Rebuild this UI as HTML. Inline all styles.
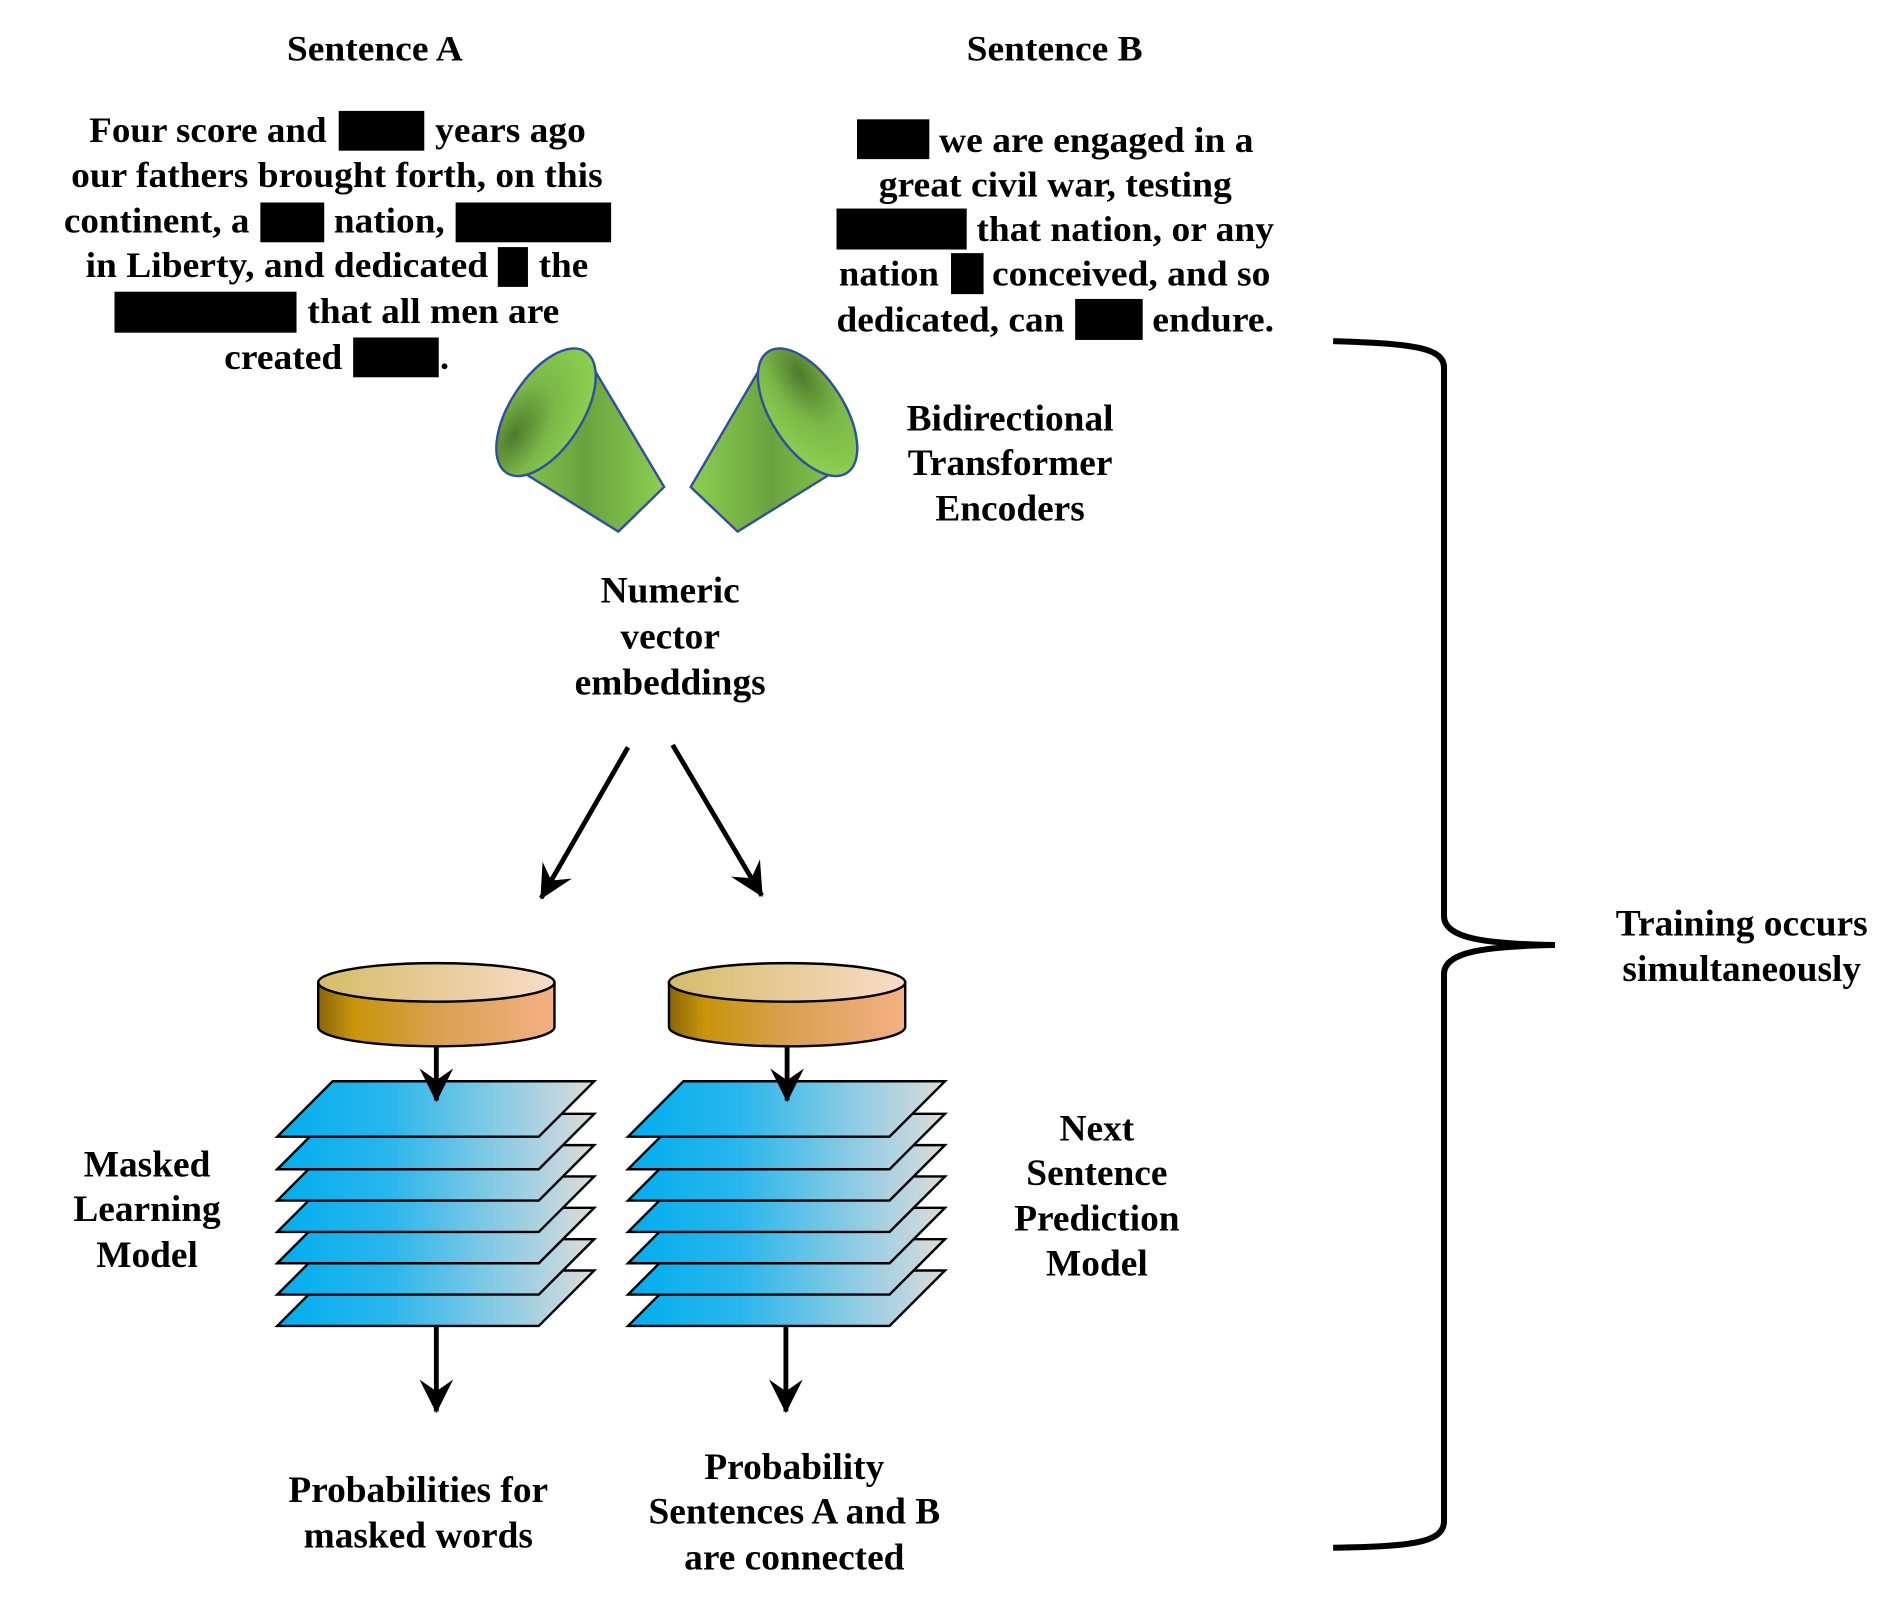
<!DOCTYPE html>
<html><head><meta charset="utf-8"><style>html,body{margin:0;padding:0;background:#fff}svg{display:block}</style></head>
<body>
<svg width="1890" height="1608" viewBox="0 0 1568 1334" preserveAspectRatio="none" xmlns="http://www.w3.org/2000/svg" font-family="'Liberation Serif', serif" font-weight="bold" font-size="30">
<defs>
<radialGradient id="cg" cx="0.3" cy="0.75" r="0.8"><stop offset="0" stop-color="#4f7a2c"/><stop offset="0.5" stop-color="#7bb848"/><stop offset="1" stop-color="#8ccf50"/></radialGradient>
<radialGradient id="cg2" cx="0.7" cy="0.25" r="0.8"><stop offset="0" stop-color="#4f7a2c"/><stop offset="0.5" stop-color="#7bb848"/><stop offset="1" stop-color="#8ccf50"/></radialGradient>
<linearGradient id="cb" x1="0" x2="1"><stop offset="0" stop-color="#8ccf50"/><stop offset="0.5" stop-color="#6aa23e"/><stop offset="1" stop-color="#8ccf50"/></linearGradient>
<linearGradient id="cyb" x1="0" x2="1"><stop offset="0" stop-color="#8a6408"/><stop offset="0.15" stop-color="#c8950a"/><stop offset="0.5" stop-color="#d9a050"/><stop offset="1" stop-color="#f4b084"/></linearGradient>
<linearGradient id="cyt" x1="0" x2="1"><stop offset="0" stop-color="#d6bc68"/><stop offset="1" stop-color="#f8dcc8"/></linearGradient>
<linearGradient id="pl" x1="0" x2="1"><stop offset="0" stop-color="#00aeef"/><stop offset="0.35" stop-color="#29b6ec"/><stop offset="1" stop-color="#dcdcdc"/></linearGradient>
<marker id="ah" viewBox="0 0 20 20" refX="19" refY="10" markerWidth="32" markerHeight="28" markerUnits="userSpaceOnUse" orient="auto"><path d="M0,0 L20,10 L0,20 L7,10 Z" fill="#000"/></marker>
<g id="plate"><polygon points="230,943 276,897 493,897 447,943" fill="url(#pl)" stroke="#000" stroke-width="2"/></g>
</defs>

<g text-anchor="middle">
<text x="311" y="50" textLength="146" lengthAdjust="spacingAndGlyphs">Sentence A</text>
<text x="875" y="50" textLength="146" lengthAdjust="spacingAndGlyphs">Sentence B</text>
</g>

<!-- Sentence A -->
<text x="74" y="118" textLength="197" lengthAdjust="spacingAndGlyphs">Four score and</text>
<rect x="281" y="92" width="71" height="33"/>
<text x="361" y="118" textLength="125" lengthAdjust="spacingAndGlyphs">years ago</text>
<text x="59" y="155" textLength="441" lengthAdjust="spacingAndGlyphs">our fathers brought forth, on this</text>
<text x="53" y="193" textLength="154" lengthAdjust="spacingAndGlyphs">continent, a</text>
<rect x="216" y="168" width="53" height="33"/>
<text x="277" y="193" textLength="92" lengthAdjust="spacingAndGlyphs">nation,</text>
<rect x="378" y="168" width="129" height="33"/>
<text x="71" y="230" textLength="334" lengthAdjust="spacingAndGlyphs">in Liberty, and dedicated</text>
<rect x="413" y="205" width="25" height="33"/>
<text x="447" y="230" textLength="41" lengthAdjust="spacingAndGlyphs">the</text>
<rect x="95" y="242" width="151" height="34"/>
<text x="255" y="268" textLength="209" lengthAdjust="spacingAndGlyphs">that all men are</text>
<text x="186" y="306" textLength="98" lengthAdjust="spacingAndGlyphs">created</text>
<rect x="293" y="280" width="71" height="33"/>
<text x="365" y="306">.</text>

<!-- Sentence B -->
<rect x="711" y="99" width="60" height="33"/>
<text x="779" y="126" textLength="261" lengthAdjust="spacingAndGlyphs">we are engaged in a</text>
<text x="729" y="163" textLength="293" lengthAdjust="spacingAndGlyphs">great civil war, testing</text>
<rect x="694" y="173" width="108" height="34"/>
<text x="810" y="200" textLength="247" lengthAdjust="spacingAndGlyphs">that nation, or any</text>
<text x="696" y="237" textLength="83" lengthAdjust="spacingAndGlyphs">nation</text>
<rect x="789" y="210" width="27" height="34"/>
<text x="823" y="237" textLength="231" lengthAdjust="spacingAndGlyphs">conceived, and so</text>
<text x="694" y="275" textLength="189" lengthAdjust="spacingAndGlyphs">dedicated, can</text>
<rect x="892" y="248" width="56" height="34"/>
<text x="956" y="275" textLength="101" lengthAdjust="spacingAndGlyphs">endure.</text>

<!-- Cones -->
<g stroke="#2f4f9f" stroke-width="2">
<polygon points="495,310 551,404 513,441 418,382" fill="url(#cb)"/>
<ellipse cx="453" cy="342" rx="30" ry="60" transform="rotate(33 453 342)" fill="url(#cg)"/>
<polygon points="628,310 573,404 612,441 707,382" fill="url(#cb)"/>
<ellipse cx="670" cy="342" rx="30" ry="60" transform="rotate(-33 670 342)" fill="url(#cg2)"/>
</g>

<g text-anchor="middle" font-size="31">
<text x="838" y="357">Bidirectional</text>
<text x="838" y="394">Transformer</text>
<text x="838" y="432">Encoders</text>
<text x="556" y="500">Numeric</text>
<text x="556" y="538">vector</text>
<text x="556" y="576">embeddings</text>
<text x="122" y="976">Masked</text>
<text x="122" y="1013">Learning</text>
<text x="122" y="1051">Model</text>
<text x="910" y="946">Next</text>
<text x="910" y="983">Sentence</text>
<text x="910" y="1021">Prediction</text>
<text x="910" y="1058">Model</text>
<text x="347" y="1246">Probabilities for</text>
<text x="347" y="1284">masked words</text>
<text x="659" y="1227">Probability</text>
<text x="659" y="1264">Sentences A and B</text>
<text x="659" y="1302">are connected</text>
<text x="1445" y="776" textLength="209" lengthAdjust="spacingAndGlyphs">Training occurs</text>
<text x="1445" y="814" textLength="198" lengthAdjust="spacingAndGlyphs">simultaneously</text>
</g>

<!-- Arrows -->
<g stroke="#000" stroke-width="4" fill="none" marker-end="url(#ah)">
<line x1="521" y1="620" x2="449" y2="745"/>
<line x1="558" y1="618" x2="632" y2="743"/>
<line x1="362" y1="1100" x2="362" y2="1171"/>
<line x1="652" y1="1100" x2="652" y2="1171"/>
</g>

<!-- Stacks -->
<g>
<use href="#plate" y="157"/><use href="#plate" y="131"/><use href="#plate" y="105"/><use href="#plate" y="79"/><use href="#plate" y="53"/><use href="#plate" y="27"/><use href="#plate" y="0"/>
</g>
<g transform="translate(291,0)">
<use href="#plate" y="157"/><use href="#plate" y="131"/><use href="#plate" y="105"/><use href="#plate" y="79"/><use href="#plate" y="53"/><use href="#plate" y="27"/><use href="#plate" y="0"/>
</g>

<!-- Cylinders -->
<g stroke="#000" stroke-width="2">
<path d="M264,815 L264,852 A98,16 0 0 0 460,852 L460,815 Z" fill="url(#cyb)"/>
<ellipse cx="362" cy="815" rx="98" ry="16" fill="url(#cyt)"/>
<path d="M555,815 L555,852 A98,16 0 0 0 751,852 L751,815 Z" fill="url(#cyb)"/>
<ellipse cx="653" cy="815" rx="98" ry="16" fill="url(#cyt)"/>
</g>
<g stroke="#000" stroke-width="4" fill="none" marker-end="url(#ah)">
<line x1="362" y1="868" x2="362" y2="913"/>
<line x1="653" y1="868" x2="653" y2="913"/>
</g>

<!-- Brace -->
<path d="M1106,283 C1170,285 1198,288 1198,305 L1198,760 C1198,778 1230,783 1290,784 C1230,785 1198,790 1198,808 L1198,1262 C1198,1280 1170,1283 1106,1284" stroke="#000" stroke-width="5" fill="none"/>
</svg>
</body></html>
